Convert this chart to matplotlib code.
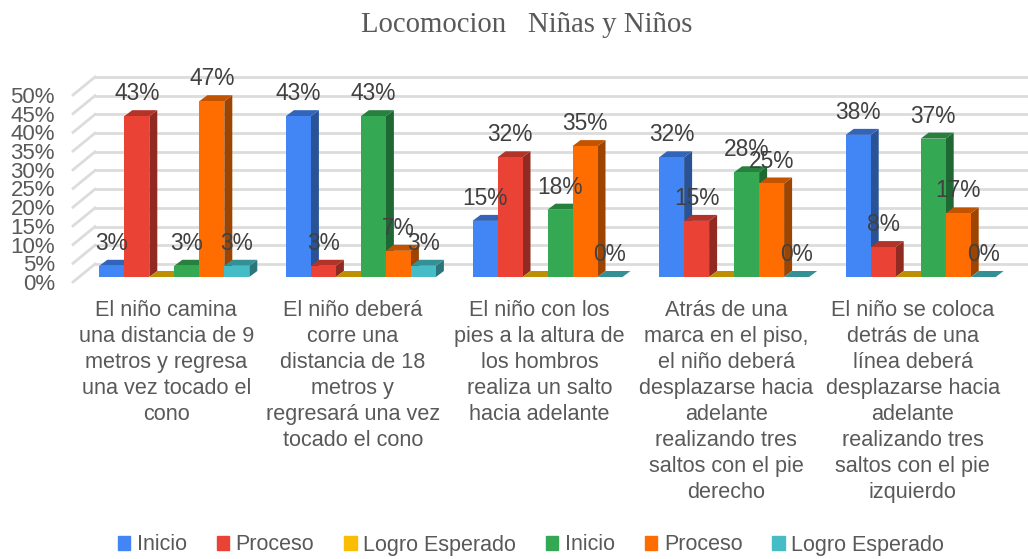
import numpy as np
import matplotlib
matplotlib.use('Agg')
import matplotlib.pyplot as plt
from matplotlib.patches import Patch
from matplotlib.transforms import offset_copy

categories = [
    'El niño camina\nuna distancia de 9\nmetros y regresa\nuna vez tocado el\ncono',
    'El niño deberá\ncorre una\ndistancia de 18\nmetros y\nregresará una vez\ntocado el cono',
    'El niño con los\npies a la altura de\nlos hombros\nrealiza un salto\nhacia adelante',
    'Atrás de una\nmarca en el piso,\nel niño deberá\ndesplazarse hacia\nadelante\nrealizando tres\nsaltos con el pie\nderecho',
    'El niño se coloca\ndetrás de una\nlínea deberá\ndesplazarse hacia\nadelante\nrealizando tres\nsaltos con el pie\nizquierdo',
]
series_names = ['Inicio', 'Proceso', 'Logro Esperado', 'Inicio', 'Proceso', 'Logro Esperado']
inicio_1 = [3, 43, 15, 32, 38]
proceso_1 = [43, 3, 32, 15, 8]
logro_1 = [0, 0, 0, 0, 0]
inicio_2 = [3, 43, 18, 28, 37]
proceso_2 = [47, 7, 35, 25, 17]
logro_2 = [3, 3, 0, 0, 0]
y_ticks = list(range(0, 55, 5))

colors = ['#4285F4', '#EA4335', '#FBBC04', '#34A853', '#FF6D01', '#46BDC6']
series = [inicio_1, proceso_1, logro_1, inicio_2, proceso_2, logro_2]
show_label = [True, True, False, True, True, True]

W, H = 1028, 559
fig = plt.figure(figsize=(W / 100, H / 100), dpi=100)
plt.rcParams['font.family'] = 'Liberation Sans'
ax = fig.add_axes([73 / W, 1 - 282 / H, 933 / W, 187 / H])
ax.set_xlim(-0.5, 4.5)
ax.set_ylim(0, 50)

# pixel sizes turned into data units
px = 5 / 933
py = 50 / 187
wall_dx, wall_dy = 22 * px, 18 * py
gap_dx, gap_dy = 8 * px, 5 * py
depth_dx, depth_dy = 8 * px, 6 * py
bar_w = 25 * px


def shade(c, f):
    return tuple(v * f for v in matplotlib.colors.to_rgb(c))


# back wall
for t in y_ticks:
    ax.plot([-0.5, -0.5 + wall_dx], [t, t + wall_dy], color='#dcdcdc', lw=2, clip_on=False, zorder=1)
    ax.plot([-0.5 + wall_dx, 4.5 + wall_dx], [t + wall_dy, t + wall_dy], color='#dcdcdc', lw=2,
            clip_on=False, zorder=1)

# 3d bars
z = 3
for g in range(len(categories)):
    for s, vals in enumerate(series):
        v = vals[g]
        x0 = g + gap_dx + (s - 3) * bar_w
        x1 = x0 + bar_w
        y0 = gap_dy
        y1 = y0 + v
        c = colors[s]
        ax.fill([x1, x1 + depth_dx, x1 + depth_dx, x1], [y0, y0 + depth_dy, y1 + depth_dy, y1],
                color=shade(c, 0.62), lw=0, clip_on=False, zorder=z)
        ax.fill([x0, x1, x1 + depth_dx, x0 + depth_dx], [y1, y1, y1 + depth_dy, y1 + depth_dy],
                color=shade(c, 0.76), lw=0, clip_on=False, zorder=z)
        ax.bar(x0, v, width=bar_w, bottom=y0, align='edge', color=c, lw=0, clip_on=False, zorder=z)
        z += 1

# data labels go over everything
for g in range(len(categories)):
    for s, vals in enumerate(series):
        if not show_label[s]:
            continue
        v = vals[g]
        x0 = g + gap_dx + (s - 3) * bar_w
        tr = offset_copy(ax.transData, fig=fig, x=0, y=16, units='dots')
        ax.text(x0 + bar_w / 2, gap_dy + v, '%d%%' % v, transform=tr, ha='center', va='baseline',
                fontsize=16.4, color='#404040', clip_on=False, zorder=100)

for sp in ax.spines.values():
    sp.set_visible(False)
ax.set_yticks(y_ticks)
ax.set_yticklabels(['%d%%' % t for t in y_ticks], fontsize=16, color='#595959')
ax.set_xticks(np.arange(5))
ax.set_xticklabels(categories, fontsize=15.6, color='#595959', linespacing=1.31)
ax.tick_params(axis='y', length=0, pad=13)
ax.tick_params(axis='x', length=0, pad=13)
ax.patch.set_alpha(0)

handles = [Patch(color=c) for c in colors]
fig.legend(handles, series_names, ncol=6, loc='center', bbox_to_anchor=(531 / W, 1 - 545 / H),
           frameon=False, fontsize=15.5, labelcolor='#595959', handlelength=0.58, handleheight=0.6,
           handletextpad=0.3, columnspacing=1.39)

fig.text(527 / W, 1 - 25 / H, 'Locomocion   Niñas y Niños', ha='center', va='center',
         family='Liberation Serif', fontsize=20.7, color='#595959')

fig.savefig('out.png', dpi=100)
